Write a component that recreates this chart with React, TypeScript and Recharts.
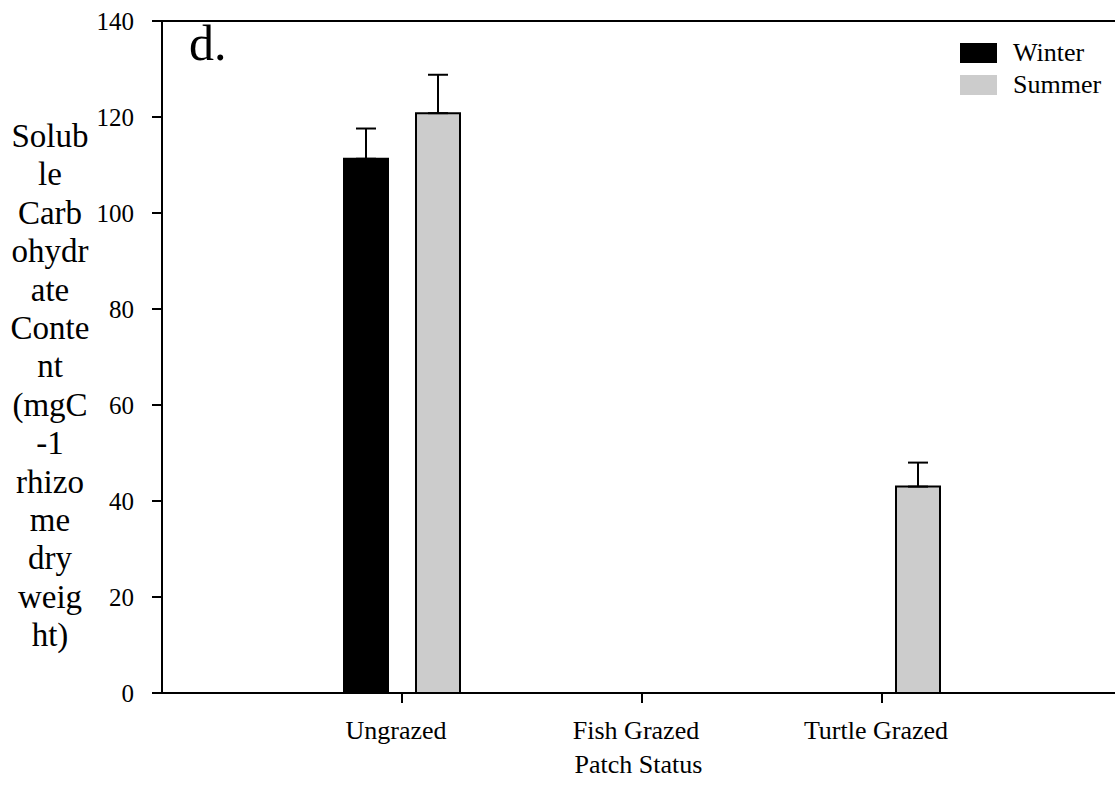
import React from 'react';
import {
  BarChart,
  Bar,
  XAxis,
  YAxis,
  ErrorBar,
  ReferenceLine,
  Legend,
  Label,
  Customized,
} from 'recharts';

// Soluble carbohydrate content by patch status, winter vs summer (mean + SE)
const categories = ['Ungrazed', 'Fish Grazed', 'Turtle Grazed'];
const winterMeans: (number | null)[] = [111.3, null, null];
const summerMeans: (number | null)[] = [120.8, null, 43.0];
const winterSE: (number | null)[] = [6.3, null, null];
const summerSE: (number | null)[] = [8.0, null, 5.0];
const yTicks = [0, 20, 40, 60, 80, 100, 120, 140];
const yLabelLines = [
  'Solub', 'le', 'Carb', 'ohydr', 'ate', 'Conte', 'nt',
  '(mgC', '-1', 'rhizo', 'me', 'dry', 'weig', 'ht)',
];

const FONT = '"Liberation Serif", "Times New Roman", serif';
const WINTER_COLOR = '#000000';
const SUMMER_COLOR = '#cccccc';

const rows = categories.map((patch, i) => ({
  patch,
  winter: winterMeans[i],
  summer: summerMeans[i],
  winterErr: winterSE[i] == null ? null : [0, winterSE[i]],
  summerErr: summerSE[i] == null ? null : [0, summerSE[i]],
}));

// Stacked, wrapped y-axis title
const YTitle = () => (
  <text fontFamily={FONT} fontSize={33} fill="#000" textAnchor="middle">
    {yLabelLines.map((line, i) => (
      <tspan key={i} x={50} y={147 + i * 38.4}>
        {line}
      </tspan>
    ))}
  </text>
);

const PanelTag = () => (
  <text x={189} y={60} fontFamily={FONT} fontSize={50} fill="#000">
    d.
  </text>
);

const LegendBox = () => {
  const items = [
    { name: 'Winter', color: WINTER_COLOR },
    { name: 'Summer', color: SUMMER_COLOR },
  ];
  return (
    <div style={{ fontFamily: FONT, fontSize: 26, color: '#000' }}>
      {items.map((it) => (
        <div
          key={it.name}
          style={{ display: 'flex', alignItems: 'center', height: 32, lineHeight: '32px' }}
        >
          <span
            style={{
              display: 'inline-block',
              width: 37,
              height: 20,
              background: it.color,
              marginRight: 16,
            }}
          />
          <span>{it.name}</span>
        </div>
      ))}
    </div>
  );
};

export default function App() {
  return (
    <div style={{ position: 'absolute', left: 0, top: 0, width: 1115, height: 806, background: '#fff' }}>
      <BarChart
        width={1115}
        height={806}
        data={rows}
        margin={{ top: 21, right: 0, left: 0, bottom: 53 }}
        barSize={44}
        barGap={28}
      >
        <XAxis
          dataKey="patch"
          type="category"
          height={60}
          padding={{ left: 120, right: 113 }}
          axisLine={{ stroke: '#000', strokeWidth: 2 }}
          tickLine={{ stroke: '#000', strokeWidth: 2 }}
          tickSize={10}
          tickMargin={18}
          tick={{ fontFamily: FONT, fontSize: 26, fill: '#000', dx: -6 }}
        >
          <Label
            value="Patch Status"
            position="bottom"
            offset={2}
            style={{ fontFamily: FONT, fontSize: 26, fill: '#000' }}
          />
        </XAxis>
        <YAxis
          type="number"
          width={162}
          domain={[0, 140]}
          ticks={yTicks}
          interval={0}
          axisLine={{ stroke: '#000', strokeWidth: 2 }}
          tickLine={{ stroke: '#000', strokeWidth: 2 }}
          tickSize={10}
          tickMargin={18}
          tick={{ fontFamily: FONT, fontSize: 25, fill: '#000' }}
        >
          <Label content={<YTitle />} />
        </YAxis>
        <ReferenceLine y={140} stroke="#000" strokeWidth={2} />
        <Legend
          layout="horizontal"
          verticalAlign="middle"
          align="center"
          wrapperStyle={{ left: 960, top: 37, width: 155 }}
          content={<LegendBox />}
        />
        <Bar dataKey="winter" name="Winter" fill={WINTER_COLOR} stroke="#000" strokeWidth={2} isAnimationActive={false}>
          <ErrorBar dataKey="winterErr" direction="y" width={10} stroke="#000" strokeWidth={2} isAnimationActive={false} />
        </Bar>
        <Bar dataKey="summer" name="Summer" fill={SUMMER_COLOR} stroke="#000" strokeWidth={2} isAnimationActive={false}>
          <ErrorBar dataKey="summerErr" direction="y" width={10} stroke="#000" strokeWidth={2} isAnimationActive={false} />
        </Bar>
        <Customized component={PanelTag} />
      </BarChart>
    </div>
  );
}
